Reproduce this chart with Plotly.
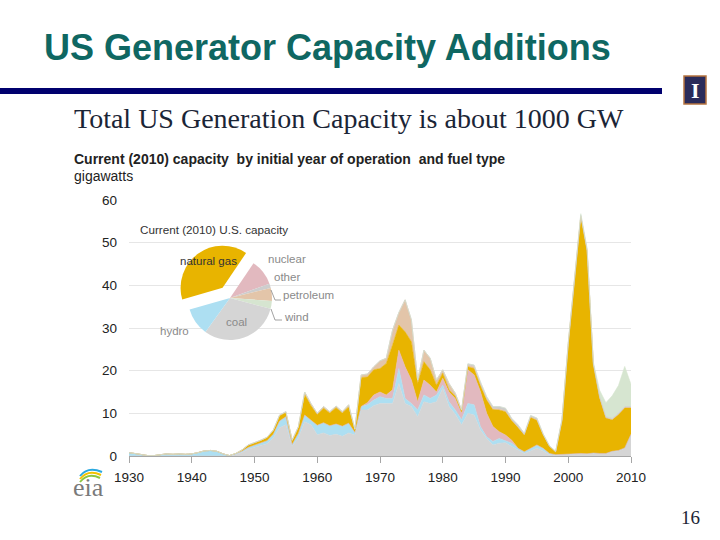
import plotly.graph_objects as go

# ---------------- data ----------------
years = list(range(1930, 2011))

coal = [0, 0, 0, 0, 0, 0, 0, 0, 0, 0, 0, 0, 0, 0, 0, 0, 0,
        0.3, 0.8, 1.6, 2.0, 2.4, 2.9, 4.2, 6.6, 7.3, 2.3,
        4.2, 8.0, 7.3, 5.0, 5.4, 4.8, 5.1, 4.6, 5.4, 4.9,
        10.8, 10.8, 11.8, 12.3, 12.3, 12.3, 17.0, 12.3, 11.6, 9.2,
        12.7, 12.3, 12.7, 15.9, 11.6, 9.8, 7.3, 10.0, 9.6, 6.1,
        4.1, 2.6, 3.0, 3.1, 2.2, 1.4, 0.6, 1.2, 1.8, 1.2,
        0.3, 0.2, 0.3, 0.4, 0.5, 0.5, 0.4, 0.6, 0.5, 0.5,
        1.0, 1.2, 1.8, 5.0]

hydro = [0.8, 0.6, 0.3, 0.1, 0.1, 0.3, 0.5, 0.4, 0.5, 0.4, 0.5, 0.8, 1.2, 1.3, 1.1, 0.5, 0.1,
         0.2, 0.3, 0.4, 0.5, 0.6, 0.7, 0.9, 1.6, 1.9, 0.4,
         1.1, 1.6, 1.1, 2.2, 2.4, 2.3, 2.4, 2.4, 2.3, 0.6,
         0.8, 1.2, 1.3, 1.6, 1.2, 1.2, 3.5, 1.2, 0.7, 1.6,
         1.6, 1.2, 1.6, 0.7, 1.1, 1.0, 1.2, 2.3, 2.4, 0.8,
         0.4, 0.8, 1.1, 0.5, 0.8, 0.4, 0.4, 0.6, 0.8, 0.6,
         0.3, 0.1, 0.1, 0.1, 0.1, 0.1, 0.1, 0.1, 0.1, 0.1,
         0.1, 0.1, 0.1, 0.1]

nuclear = [0, 0, 0, 0, 0, 0, 0, 0, 0, 0, 0, 0, 0, 0, 0, 0, 0,
           0, 0, 0, 0, 0, 0, 0, 0, 0, 0,
           0, 0, 0, 0, 0, 0, 0, 0, 0, 0,
           0.0, 0.5, 1.2, 1.1, 0.8, 2.0, 4.3, 7.4, 5.5, 1.9,
           3.5, 3.1, 0.7, 1.6, 2.3, 2.7, 1.5, 7.9, 7.0, 8.2,
           5.5, 3.5, 1.6, 1.3, 0.7, 0, 0, 0, 0, 0,
           0, 0, 0, 0, 0, 0, 0, 0, 0, 0,
           0, 0, 0, 0]

natural_gas = [0, 0, 0, 0, 0, 0, 0, 0, 0, 0, 0, 0, 0, 0, 0, 0, 0,
               0.1, 0.3, 0.5, 0.5, 0.6, 0.7, 0.8, 1.2, 1.0, 0.9,
               1.4, 4.8, 3.4, 2.5, 3.4, 3.0, 3.8, 3.1, 3.8, 0.6,
               6.8, 6.0, 5.9, 5.5, 7.4, 10.5, 5.9, 8.2, 9.0, 4.3,
               4.3, 3.6, 1.6, 1.2, 0.5, 0.5, 0.4, 0.7, 1.5, 1.5,
               3.1, 4.0, 5.1, 5.5, 4.6, 4.9, 3.9, 7.3, 5.8, 3.1,
               1.6, 0.6, 7.8, 25.6, 40.5, 55.5, 47.5, 20.7, 13.0, 8.3,
               7.4, 8.4, 9.4, 6.2]

petroleum = [0, 0, 0, 0, 0, 0, 0, 0, 0, 0, 0, 0, 0, 0, 0, 0, 0,
             0, 0, 0.1, 0.1, 0.1, 0.1, 0.2, 0.2, 0.2, 0.1,
             0.2, 0.6, 0.5, 0.3, 0.4, 0.3, 0.4, 0.3, 0.5, 0.2,
             0.6, 0.7, 0.7, 1.8, 1.2, 3.5, 2.9, 7.5, 5.1, 0.8,
             2.7, 2.7, 1.2, 0.8, 1.5, 0.7, 0.4, 0.4, 0.4, 0.3,
             0.3, 0.2, 0.2, 0.2, 0.1, 0.1, 0.1, 0.1, 0.1, 0.1,
             0.1, 0.1, 0.1, 0.1, 0.1, 0.1, 0.1, 0.1, 0.1, 0.1,
             0.1, 0.1, 0.1, 0.1]

other = [0, 0, 0, 0, 0, 0, 0, 0, 0, 0, 0, 0, 0, 0, 0, 0, 0,
         0, 0, 0, 0, 0, 0, 0, 0, 0, 0,
         0, 0, 0, 0, 0, 0, 0, 0, 0, 0,
         0, 0, 0, 0, 0, 0, 0, 0, 0, 0,
         0, 0, 0, 0, 0, 0, 0, 0.3, 0.4, 0.5,
         0.5, 0.5, 0.6, 0.6, 0.4, 0.5, 0.3, 0.3, 0.4, 0.2,
         0.1, 0.1, 0.2, 0.3, 0.2, 0.3, 0.3, 0.2, 0.2, 0.2,
         0.2, 0.2, 0.2, 0.2]

wind = [0, 0, 0, 0, 0, 0, 0, 0, 0, 0, 0, 0, 0, 0, 0, 0, 0,
        0, 0, 0, 0, 0, 0, 0, 0, 0, 0,
        0, 0, 0, 0, 0, 0, 0, 0, 0, 0,
        0, 0, 0, 0, 0, 0, 0, 0, 0, 0,
        0, 0, 0, 0, 0, 0, 0, 0, 0, 0,
        0, 0, 0, 0, 0, 0, 0, 0, 0, 0,
        0, 0, 0.1, 0.1, 0.3, 0.3, 0.3, 0.3, 1.5, 3.3,
        5.3, 6.5, 9.4, 5.2]

# 2010 capacity shares for the inset pie (clockwise order)
pie_labels = ["nuclear", "other", "petroleum", "wind", "coal", "hydro", "natural gas"]
pie_values = [10.0, 1.7, 5.0, 3.0, 30.8, 10.6, 38.9]

x_ticks = [1930, 1940, 1950, 1960, 1970, 1980, 1990, 2000, 2010]
y_ticks = [0, 10, 20, 30, 40, 50, 60]

# ---------------- styling ----------------
colors = {
    "coal": "#d5d5d5",
    "hydro": "#addff2",
    "nuclear": "#e2b9bf",
    "natural gas": "#e8b400",
    "petroleum": "#e3c5a9",
    "other": "#cdcdcd",
    "wind": "#d6e5d0",
}

W, H = 720, 540
PL, PR, PT, PB = 129, 631, 200, 456  # plot area in pixels


def px(x):
    return (x - PL) / (PR - PL)


def py(y):
    return (PB - y) / (PB - PT)


SANS = "Arial, Liberation Sans, sans-serif"
SERIF = "Times New Roman, Liberation Serif, serif"

fig = go.Figure()

series = [("coal", coal), ("hydro", hydro), ("nuclear", nuclear),
          ("natural gas", natural_gas), ("petroleum", petroleum),
          ("other", other), ("wind", wind)]
for name, vals in series:
    fig.add_trace(go.Scatter(
        x=years, y=vals, name=name, stackgroup="one", mode="lines",
        line=dict(width=0.6, color=colors[name]), fillcolor=colors[name],
        hoverinfo="skip", showlegend=False))

# inset pie
r_pie = 42
pull = 0.3
half = r_pie * (1 + pull)
cx, cy = 230, 298
fig.add_trace(go.Pie(
    labels=pie_labels, values=pie_values, sort=False, direction="clockwise",
    rotation=34, textinfo="none", hoverinfo="skip", showlegend=False,
    pull=[0, 0, 0, 0, 0, 0, pull],
    marker=dict(colors=[colors[l] for l in pie_labels], line=dict(width=0)),
    domain=dict(x=[px(cx - half), px(cx + half)], y=[py(cy + half), py(cy - half)])))

ann = []


def text(x, y, s, size, color, family=SANS, xanchor="left", bold=False, ref="paper"):
    if bold:
        s = "<b>" + s + "</b>"
    if ref == "paper":
        ann.append(dict(x=px(x), y=py(y), xref="paper", yref="paper", text=s, showarrow=False,
                        xanchor=xanchor, yanchor="middle", font=dict(size=size, color=color, family=family)))
    else:
        ann.append(dict(x=x, y=y, xref="x", yref="y", text=s, showarrow=False,
                        xanchor=xanchor, yanchor="middle", font=dict(size=size, color=color, family=family)))


# slide texts
text(42, 47, "US Generator Capacity Additions", 36, "#0f6762", bold=True)
text(72, 118, "Total US Generation Capacity is about 1000 GW", 28, "#1b2536", family=SERIF)
text(690, 517, "16", 19, "#1b2536", family=SERIF, xanchor="center")
text(72, 159, "Current (2010) capacity  by initial year of operation  and fuel type", 14, "#222222", bold=True)
text(72, 176, "gigawatts", 14, "#222222")
text(88, 487, "eia", 26, "#7a7a7a", family=SERIF, xanchor="center")

# logo letter
text(695, 90, "I", 22, "#ffffff", family=SERIF, xanchor="center", bold=True)

# pie labels (placed in data coordinates of the chart)
text(1931.4, 53.0, "Current (2010) U.S. capacity", 11.7, "#333333", ref="data")
text(1942.6, 45.7, "natural gas", 11.5, "#333333", xanchor="center", ref="data")
text(1951.8, 46.2, "nuclear", 11.5, "#8a8a8a", ref="data")
text(1952.8, 41.9, "other", 11.5, "#8a8a8a", ref="data")
text(1954.3, 37.7, "petroleum", 11.5, "#8a8a8a", ref="data")
text(1954.4, 32.6, "wind", 11.5, "#8a8a8a", ref="data")
text(1947.2, 31.4, "coal", 11.5, "#8a8a8a", xanchor="center", ref="data")
text(1937.3, 29.3, "hydro", 11.5, "#8a8a8a", xanchor="center", ref="data")

shapes = []
# navy divider bar
shapes.append(dict(type="rect", xref="paper", yref="paper", x0=px(0), x1=px(662), y0=py(94), y1=py(88),
                   fillcolor="#00006e", line=dict(width=0)))
# logo box
shapes.append(dict(type="rect", xref="paper", yref="paper", x0=px(684), x1=px(706), y0=py(104), y1=py(76),
                   fillcolor="#2a2b5a", line=dict(width=1.5, color="#b5733f")))
# leader lines for petroleum & wind
for pts in [[(271, 290), (275, 300), (281, 300)], [(271, 309), (275, 320), (282, 320)]]:
    path = "M " + " L ".join(f"{px(a)},{py(b)}" for a, b in pts)
    shapes.append(dict(type="path", xref="paper", yref="paper", path=path,
                       line=dict(width=0.8, color="#8a8a8a")))
# eia arcs
arc_cols = ["#8cc63f", "#f2c200", "#2aa9e0"]
for i, c in enumerate(arc_cols):
    y0 = 482 - i * 3
    path = f"M {px(80)},{py(y0)} Q {px(88)},{py(y0 - 10)} {px(100 + i)},{py(y0 - 4)}"
    shapes.append(dict(type="path", xref="paper", yref="paper", path=path,
                       line=dict(width=2, color=c)))

fig.update_layout(
    width=W, height=H,
    margin=dict(l=PL, r=W - PR, t=PT, b=H - PB, pad=0),
    paper_bgcolor="white", plot_bgcolor="white",
    showlegend=False,
    annotations=ann, shapes=shapes,
    font=dict(family=SANS, color="#222222"),
)
fig.update_xaxes(range=[1930, 2010], tickvals=x_ticks, ticktext=[str(v) for v in x_ticks],
                 showgrid=False, zeroline=False, showline=True, linecolor="#a6a6a6", linewidth=1,
                 ticks="outside", ticklen=6, tickcolor="#a6a6a6", tickfont=dict(size=13.5, color="#222222"),
                 ticklabelstandoff=3)
fig.update_yaxes(range=[0, 60], tickvals=y_ticks, ticktext=[str(v) for v in y_ticks],
                 showgrid=True, gridcolor="#e6e6e6", gridwidth=1, zeroline=False, showline=False,
                 ticks="", tickfont=dict(size=13.5, color="#222222"), ticklabelstandoff=11)

fig.write_html("out.html", config={"displayModeBar": False},
               post_script="document.body.style.margin='0';")
